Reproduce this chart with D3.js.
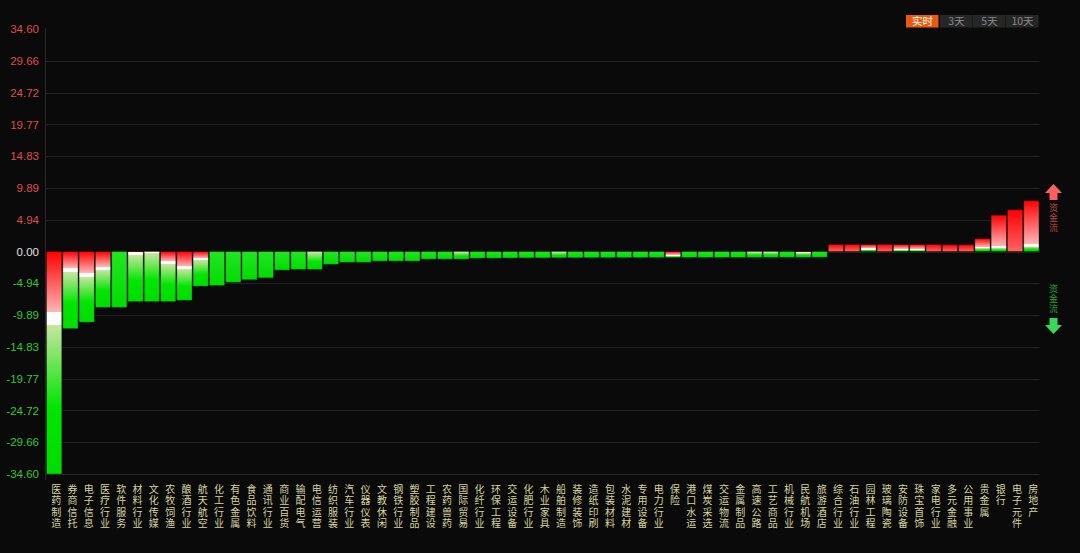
<!DOCTYPE html>
<html><head><meta charset="utf-8">
<script src="https://cdn.jsdelivr.net/npm/d3@7"></script>
<style>
html,body{margin:0;padding:0;background:#0a0a0a;}
svg{display:block;}
.vt{writing-mode:vertical-rl;text-orientation:upright;}
</style></head><body>
<svg id="c" width="1080" height="553"></svg>
<script>
const categories = ["医药制造","券商信托","电子信息","医疗行业","软件服务","材料行业","文化传媒","农牧饲渔","酿酒行业","航天航空","化工行业","有色金属","食品饮料","通讯行业","商业百货","输配电气","电信运营","纺织服装","汽车行业","仪器仪表","文教休闲","钢铁行业","塑胶制品","工程建设","农药兽药","国际贸易","化纤行业","环保工程","交运设备","化肥行业","木业家具","船舶制造","装修装饰","造纸印刷","包装材料","水泥建材","专用设备","电力行业","保险","港口水运","煤炭采选","交运物流","金属制品","高速公路","工艺商品","机械行业","民航机场","旅游酒店","综合行业","石油行业","园林工程","玻璃陶瓷","安防设备","珠宝首饰","家电行业","多元金融","公用事业","贵金属","银行","电子元件","房地产"];
const values = [-34.6,-12.0,-11.0,-8.7,-8.7,-7.8,-7.8,-7.8,-7.6,-5.4,-5.3,-4.8,-4.4,-4.1,-2.9,-2.8,-2.8,-2.0,-1.7,-1.7,-1.5,-1.5,-1.5,-1.2,-1.2,-1.2,-1.05,-1.05,-1.02,-1.0,-1.0,-0.98,-0.98,-0.97,-0.97,-0.96,-0.96,-0.95,-0.95,-0.94,-0.94,-0.94,-0.94,-0.93,-0.93,-0.92,-0.92,-0.9,1.1,1.1,1.1,1.1,1.1,1.1,1.1,1.05,1.05,2.0,5.65,6.5,7.9];
// value where the red (inflow) part meets the green (outflow) part; null = single colour
const splits = [-10.4,-2.9,-3.6,-2.6,null,-0.3,0,-1.7,-2.5,-1.2,null,null,null,null,null,null,0,null,null,null,null,null,null,null,null,0,null,null,null,null,null,0,null,null,null,null,null,null,-0.6,null,null,null,null,0,0,null,-0.1,null,null,null,0.4,null,0.3,0.3,null,null,null,0.6,0.7,null,1.0];
const yTickValues = [34.60,29.66,24.72,19.77,14.83,9.89,4.94,0,-4.94,-9.89,-14.83,-19.77,-24.72,-29.66,-34.60];
const yTickLabels = ["34.60","29.66","24.72","19.77","14.83","9.89","4.94","0.00","-4.94","-9.89","-14.83","-19.77","-24.72","-29.66","-34.60"];
const periods = ["实时","3天","5天","10天"];
const flowLabels = ["资金流","资金流"];

const svg = d3.select("#c");
svg.append("rect").attr("width",1080).attr("height",553).attr("fill","#0a0a0a");
const pLeft = 46, pRight = 1039.5, pTop = 29, pBottom = 474;

const x = d3.scaleBand().domain(categories).range([pLeft, pRight]).paddingInner(0.06).paddingOuter(0.03);
const y = d3.scaleLinear().domain([-34.6, 34.6]).range([pBottom, pTop]);

// grid
svg.append("g").selectAll("line").data(yTickValues.filter(d => d < 34)).join("line")
  .attr("x1", pLeft).attr("x2", pRight).attr("y1", d => Math.round(y(d)) + 0.5).attr("y2", d => Math.round(y(d)) + 0.5)
  .attr("stroke", d => d === -34.6 ? "#2a2a2a" : "#222").attr("stroke-width", 1);
svg.append("line").attr("x1", pLeft - 0.5).attr("x2", pLeft - 0.5).attr("y1", pTop - 1).attr("y2", pBottom + 6)
  .attr("stroke", "#2a2a2a");

// y axis labels
const yAxis = d3.axisLeft(y).tickValues(yTickValues).tickFormat((d, i) => yTickLabels[i]).tickSize(0).tickPadding(0);
const ag = svg.append("g").attr("transform", "translate(39,0)").call(yAxis);
ag.select(".domain").remove();
ag.selectAll("text").attr("font-family", "Liberation Sans, Arial, sans-serif").attr("font-size", 11.5)
  .attr("fill", d => d > 0 ? "#e04a4a" : (d < 0 ? "#35c835" : "#e0e0e0"));

// gradients
const defs = svg.append("defs");
categories.forEach((c, i) => {
  const v = values[i], s = splits[i];
  const y0 = y(Math.max(v, 0)), y1 = y(Math.min(v, 0)), h = y1 - y0;
  const g = defs.append("linearGradient").attr("id", "g" + i).attr("x1", 0).attr("y1", 0).attr("x2", 0).attr("y2", 1);
  let stops;
  if (s === null) {
    stops = v < 0 ? [[0, "#22e622"], [1, "#00dc00"]] : [[0, "#ff0000"], [1, "#ff6464"]];
  } else {
    const f = (y(s) - y0) / h;
    const bw = Math.max(0.6 / h, Math.min(0.03, 6.5 / h));
    const a = Math.max(0, f - bw), b = Math.min(1, f + bw);
    stops = [];
    if (a > 0) { stops.push([0, "#ff0000"]); stops.push([a, "#ffb4b4"]); }
    stops.push([a, "#ffffff"]); stops.push([b, "#ffffff"]);
    if (b < 1) {
      stops.push([b, "#c8e6a0"]);
      stops.push([b + (1 - b) * 0.55, "#00e600"]);
      stops.push([1, "#00dc00"]);
    }
  }
  stops.forEach(st => g.append("stop").attr("offset", st[0]).attr("stop-color", st[1]));
});

// bars
svg.append("g").selectAll("rect").data(categories).join("rect")
  .attr("x", d => x(d)).attr("width", x.bandwidth())
  .attr("y", (d, i) => y(Math.max(values[i], 0)))
  .attr("height", (d, i) => Math.abs(y(values[i]) - y(0)))
  .attr("fill", (d, i) => "url(#g" + i + ")")
  .attr("stroke", "rgba(0,0,0,0.35)").attr("stroke-width", 1);

// x labels (vertical text, one element per category)
svg.append("g").selectAll("text").data(categories).join("text")
  .attr("class", "vt")
  .attr("x", d => x(d) + x.bandwidth() / 2 + 2).attr("y", 484)
  .attr("font-family", "Noto Sans CJK SC, sans-serif").attr("font-size", 10)
  .attr("letter-spacing", 1.4)
  .attr("fill", "#d8d4a0").text(d => d);

// period buttons
const bx = [906, 940, 973, 1006];
periods.forEach((p, i) => {
  svg.append("rect").attr("x", bx[i]).attr("y", 15).attr("width", 32.5).attr("height", 12.5)
    .attr("fill", i === 0 ? "#e85a0c" : "#262626");
  svg.append("text").attr("x", bx[i] + 16.5).attr("y", 25).attr("text-anchor", "middle")
    .attr("font-family", "Noto Sans CJK SC, sans-serif").attr("font-size", 10.5)
    .attr("fill", i === 0 ? "#ffffff" : "#8a8a8a").text(p);
});

// flow arrows
const ax = 1053.5;
svg.append("path").attr("d", `M${ax},184 L${ax+8.5},193 L${ax+4},193 L${ax+4},200 L${ax-4},200 L${ax-4},193 L${ax-8.5},193 Z`).attr("fill", "#ff5f5f");
svg.append("path").attr("d", `M${ax},334 L${ax+8.5},325 L${ax+4},325 L${ax+4},318 L${ax-4},318 L${ax-4},325 L${ax-8.5},325 Z`).attr("fill", "#3ad85a");
svg.append("text").attr("class", "vt").attr("x", ax).attr("y", 203)
  .attr("font-family", "Noto Sans CJK SC, sans-serif").attr("font-size", 9).attr("letter-spacing", 1)
  .attr("fill", "#b84444").text(flowLabels[0]);
svg.append("text").attr("class", "vt").attr("x", ax).attr("y", 284)
  .attr("font-family", "Noto Sans CJK SC, sans-serif").attr("font-size", 9).attr("letter-spacing", 1)
  .attr("fill", "#2e9e3e").text(flowLabels[1]);
</script>
</body></html>
